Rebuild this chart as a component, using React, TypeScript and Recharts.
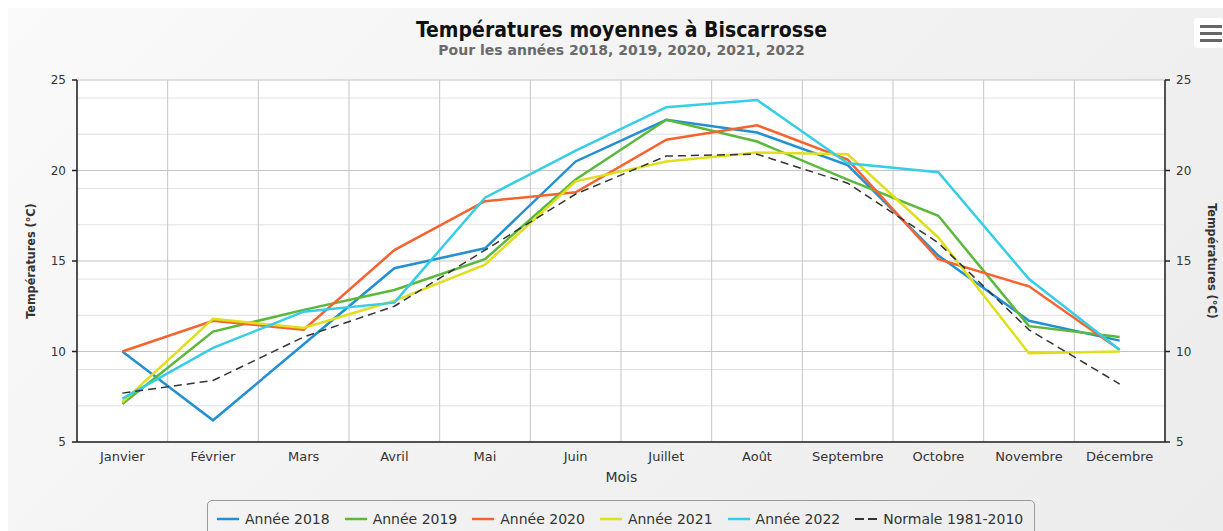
import React from 'react';
import { LineChart, Line, XAxis, YAxis, CartesianGrid, Legend } from 'recharts';

const months = ['Janvier', 'Février', 'Mars', 'Avril', 'Mai', 'Juin', 'Juillet', 'Août', 'Septembre', 'Octobre', 'Novembre', 'Décembre'];
const y2018 = [10.0, 6.2, 10.4, 14.6, 15.7, 20.5, 22.8, 22.1, 20.3, 15.3, 11.7, 10.6];
const y2019 = [7.1, 11.1, 12.3, 13.4, 15.1, 19.5, 22.8, 21.6, 19.5, 17.5, 11.4, 10.8];
const y2020 = [10.0, 11.7, 11.2, 15.6, 18.3, 18.8, 21.7, 22.5, 20.6, 15.1, 13.6, 10.1];
const y2021 = [7.2, 11.8, 11.3, 12.8, 14.8, 19.4, 20.5, 21.0, 20.9, 16.3, 9.9, 10.0];
const y2022 = [7.4, 10.2, 12.2, 12.7, 18.5, 21.1, 23.5, 23.9, 20.4, 19.9, 14.0, 10.1];
const normale = [7.7, 8.4, 10.8, 12.5, 15.6, 18.7, 20.8, 20.9, 19.3, 16.0, 11.2, 8.2];

const yTicks = [5, 10, 15, 20, 25];
const yMinorTicks = [6, 7, 8, 9, 11, 12, 13, 14, 16, 17, 18, 19, 21, 22, 23, 24];
const boundaryTicks = [0, 1, 2, 3, 4, 5, 6, 7, 8, 9, 10, 11, 12];
const centerTicks = months.map((_, i) => i + 0.5);

const series = [
  { key: 'y2018', name: 'Année 2018', color: '#2290d2', values: y2018, dash: undefined as string | undefined, width: 2.5 },
  { key: 'y2019', name: 'Année 2019', color: '#5cb83a', values: y2019, dash: undefined, width: 2.5 },
  { key: 'y2020', name: 'Année 2020', color: '#f5632f', values: y2020, dash: undefined, width: 2.5 },
  { key: 'y2021', name: 'Année 2021', color: '#dfdf1c', values: y2021, dash: undefined, width: 2.5 },
  { key: 'y2022', name: 'Année 2022', color: '#36cde6', values: y2022, dash: undefined, width: 2.5 },
  { key: 'normale', name: 'Normale 1981-2010', color: '#333333', values: normale, dash: '8 5', width: 1.5 },
];

const data = months.map((m, i) => {
  const row: Record<string, number | string> = { x: i + 0.5, month: m };
  series.forEach((s) => { row[s.key] = s.values[i]; });
  return row;
});

const renderLegend = (props: any) => {
  const payload = props.payload || [];
  return (
    <div style={{
      boxSizing: 'border-box', width: 828, height: 38, border: '1px solid #999', borderRadius: 5,
      display: 'flex', alignItems: 'center', paddingLeft: 9, fontSize: 14, color: '#333', whiteSpace: 'nowrap',
    }}>
      {payload.map((entry: any, i: number) => {
        const s = series.find((x) => x.name === entry.value);
        return (
          <div key={i} style={{ display: 'flex', alignItems: 'center', marginRight: 15 }}>
            <svg width={22} height={10} style={{ marginRight: 6 }}>
              <line x1={0} y1={5} x2={22} y2={5} stroke={entry.color} strokeWidth={s && s.dash ? 2 : 2.5} strokeDasharray={s && s.dash ? '9 4' : undefined} />
            </svg>
            <span>{entry.value}</span>
          </div>
        );
      })}
    </div>
  );
};

const tickStyle = { fill: '#333', fontSize: 12 };
const axisTitleStyle: React.CSSProperties = {
  position: 'absolute', width: 200, height: 16, lineHeight: '16px', textAlign: 'center',
  fontFamily: '"DejaVu Sans Condensed", "DejaVu Sans", sans-serif', fontWeight: 'bold', fontSize: 12.5,
  color: '#333', whiteSpace: 'nowrap',
};

export default function App() {
  return (
    <div style={{
      position: 'fixed', left: 8, top: 8, width: 1215, height: 523, overflow: 'hidden',
      background: 'linear-gradient(135deg, #fafafa 0%, #f2f2f2 50%, #ececec 100%)',
      fontFamily: '"DejaVu Sans", sans-serif',
    }}>
      <div style={{ position: 'absolute', left: 113.5, width: 1000, top: 11.5, textAlign: 'center', fontFamily: '"DejaVu Sans Condensed", "DejaVu Sans", sans-serif', fontWeight: 'bold', fontSize: 21, lineHeight: '21px', color: '#111' }}>
        Températures moyennes à Biscarrosse
      </div>
      <div style={{ position: 'absolute', left: 113.5, width: 1000, top: 35.2, textAlign: 'center', fontWeight: 'bold', fontSize: 14, lineHeight: '14px', color: '#6a6a6a' }}>
        Pour les années 2018, 2019, 2020, 2021, 2022
      </div>
      <LineChart width={1215} height={523} data={data} margin={{ top: 72, right: 0, bottom: 59, left: 0 }}>
        <CartesianGrid xAxisId="a" yAxisId="left" fill="#ffffff" vertical={false} horizontalValues={yMinorTicks} stroke="#e2e2e2" strokeWidth={1} />
        <CartesianGrid xAxisId="a" yAxisId="left" horizontalValues={yTicks} verticalValues={boundaryTicks} stroke="#c4c4c4" strokeWidth={1} />
        <XAxis xAxisId="b" dataKey="x" type="number" domain={[0, 12]} ticks={boundaryTicks} tick={false} tickLine={{ stroke: '#222', strokeWidth: 1.5 }} tickSize={6} axisLine={false} height={0} allowDataOverflow />
        <XAxis xAxisId="a" dataKey="x" type="number" domain={[0, 12]} ticks={centerTicks} interval={0}
          tickFormatter={(v: number) => months[Math.floor(v)]} tickLine={false} tickSize={6} tickMargin={4}
          axisLine={{ stroke: '#222', strokeWidth: 1.5 }} tick={{ fill: '#333', fontSize: 13 }} height={30} allowDataOverflow />
        <YAxis yAxisId="left" orientation="left" domain={[5, 25]} ticks={yTicks} width={69} tickSize={5} tickMargin={6}
          axisLine={{ stroke: '#222', strokeWidth: 1.5 }} tickLine={{ stroke: '#222', strokeWidth: 1.5 }} tick={tickStyle} allowDataOverflow />
        <YAxis yAxisId="right" orientation="right" domain={[5, 25]} ticks={yTicks} width={58} tickSize={5} tickMargin={6}
          axisLine={{ stroke: '#222', strokeWidth: 1.5 }} tickLine={{ stroke: '#222', strokeWidth: 1.5 }} tick={tickStyle} allowDataOverflow />
        <Legend layout="horizontal" verticalAlign="middle" align="center" content={renderLegend}
          wrapperStyle={{ left: 199, top: 492, width: 828, height: 38 }} />
        {series.map((s) => (
          <Line key={s.key} xAxisId="a" yAxisId="left" type="linear" dataKey={s.key} name={s.name} stroke={s.color}
            strokeWidth={s.width} strokeDasharray={s.dash} dot={false} activeDot={false} isAnimationActive={false} />
        ))}
      </LineChart>
      <div style={{ position: 'absolute', left: 563.3, width: 100, top: 460.7, height: 16, lineHeight: '16px', textAlign: 'center', fontSize: 14, color: '#333' }}>Mois</div>
      <div style={{ ...axisTitleStyle, left: 23 - 100, top: 253 - 8, transform: 'rotate(-90deg)' }}>Températures (°C)</div>
      <div style={{ ...axisTitleStyle, left: 1204 - 100, top: 253 - 8, transform: 'rotate(90deg)' }}>Températures (°C)</div>
      <div style={{ position: 'absolute', left: 1186, top: 10, width: 29, height: 30, background: '#ffffff', borderRadius: 3 }}>
        <div style={{ position: 'absolute', left: 6, top: 7, width: 22, height: 3, background: '#666' }} />
        <div style={{ position: 'absolute', left: 6, top: 14, width: 22, height: 3, background: '#666' }} />
        <div style={{ position: 'absolute', left: 6, top: 21, width: 22, height: 3, background: '#666' }} />
      </div>
    </div>
  );
}
